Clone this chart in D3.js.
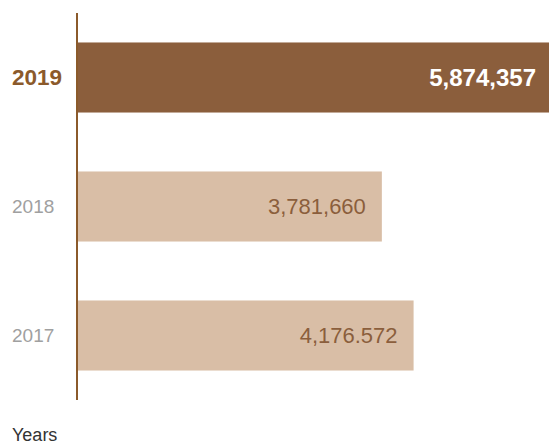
<!DOCTYPE html>
<html>
<head>
<meta charset="utf-8">
<script src="https://cdn.jsdelivr.net/npm/d3@7/dist/d3.min.js"></script>
<style>
  html, body { margin: 0; padding: 0; background: #fff; }
  svg { display: block; font-family: "Liberation Sans", Arial, Helvetica, sans-serif; }
</style>
</head>
<body>
<svg id="chart" width="549" height="445"></svg>
<script>
const years = ["2019", "2018", "2017"];
const values = [5874357, 3781660, 4176572];
const valueLabels = ["5,874,357", "3,781,660", "4,176.572"];
const highlight = ["2019"];
const axisTitle = "Years";

const svg = d3.select("#chart");
const x = d3.scaleLinear().domain([0, d3.max(values)]).range([78, 550]);
const y = d3.scaleBand().domain(years).range([13, 400]).paddingInner(0.457).paddingOuter(0.2285);

const data = years.map((yr, i) => ({ year: yr, value: values[i], label: valueLabels[i], hi: highlight.includes(yr) }));

svg.selectAll("rect.bar").data(data).join("rect")
  .attr("class", "bar")
  .attr("x", x(0))
  .attr("y", d => y(d.year))
  .attr("width", d => x(d.value) - x(0))
  .attr("height", y.bandwidth())
  .attr("fill", d => d.hi ? "#8b5e3c" : "#d9bea6");

svg.selectAll("text.val").data(data).join("text")
  .attr("class", "val")
  .attr("x", d => d.hi ? 536 : x(d.value) - 16)
  .attr("y", d => y(d.year) + y.bandwidth() / 2)
  .attr("dy", "0.35em")
  .attr("text-anchor", "end")
  .attr("font-size", d => d.hi ? 24 : 22)
  .attr("font-weight", d => d.hi ? "bold" : "normal")
  .attr("fill", d => d.hi ? "#ffffff" : "#8b5e3c")
  .text(d => d.label);

svg.selectAll("text.yr").data(data).join("text")
  .attr("class", "yr")
  .attr("x", 12)
  .attr("y", d => y(d.year) + y.bandwidth() / 2)
  .attr("dy", "0.35em")
  .attr("font-size", d => d.hi ? 22.5 : 19)
  .attr("font-weight", d => d.hi ? "bold" : "normal")
  .attr("fill", d => d.hi ? "#8b5a2b" : "#a0a0a0")
  .text(d => d.year);

svg.append("line")
  .attr("x1", 77).attr("x2", 77)
  .attr("y1", y.range()[0]).attr("y2", y.range()[1])
  .attr("stroke", "#8b5a2b").attr("stroke-width", 2);

svg.append("text")
  .attr("x", 12).attr("y", 441)
  .attr("font-size", 18)
  .attr("fill", "#333")
  .text(axisTitle);
</script>
</body>
</html>
